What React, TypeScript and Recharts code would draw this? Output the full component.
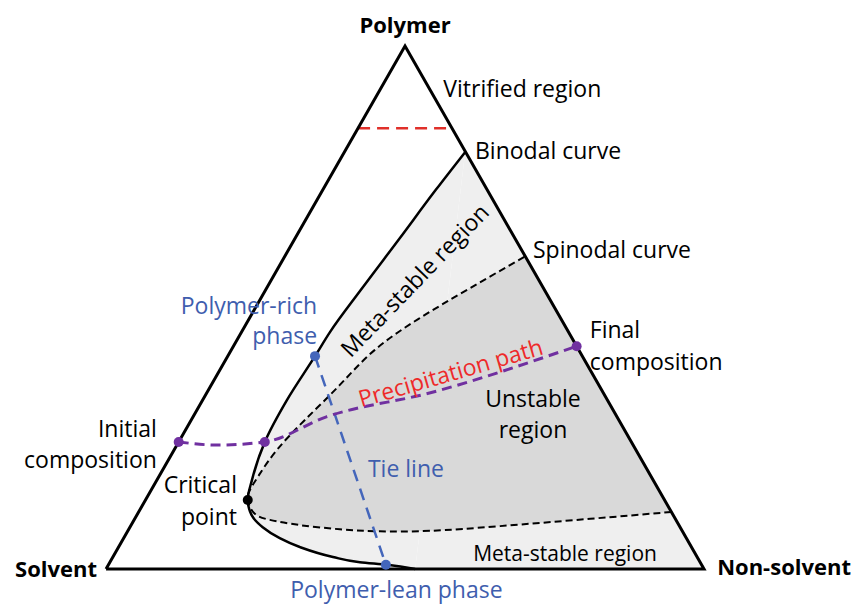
import { Scatter, ScatterChart, XAxis, YAxis } from 'recharts'

// Compositions as [polymer %, non-solvent %];
// solvent is the remainder. Solvent corner bottom-left, non-solvent
// bottom-right, polymer at the top.
type Comp = [number, number]

const corners: Comp[] = [[0, 0], [0, 100], [100, 0], [0, 0]]

const binodal: Comp[] = [
  [79.7, 20.2], [72.5, 18.9], [63.3, 17.5], [53.2, 15.9], [45.3, 14.8],
  [40.7, 14.6], [32.3, 14.1], [24.3, 14.4], [17.0, 15.9], [13.2, 17.1],
  [10.3, 19.2], [8.0, 22.2], [5.9, 26.1], [4.2, 30.3], [2.3, 36.8],
  [1.3, 41.8], [0.8, 46.6], [0, 51.7],
]

const spinodal: Comp[] = [
  [59.7, 40.1], [53.7, 34.0], [48.0, 28.5], [41.9, 24.0], [35.2, 21.5],
  [28.5, 19.0], [22.8, 17.2], [18.0, 16.6], [15.1, 16.5], [13.2, 17.1],
  [10.7, 19.4], [9.4, 22.7], [8.4, 28.2], [7.6, 35.3], [7.2, 42.2],
  [7.3, 50.5], [8.2, 61.8], [9.6, 76.2], [10.9, 89.1],
]

const precipitationPath: Comp[] = [
  [24.3, 0], [23.7, 6.7], [24.3, 14.4], [29.1, 22.3], [33.7, 37.4], [42.6, 57.4],
]

const tieLine: Comp[] = [[40.7, 14.6], [0.8, 46.4]]
const vitrification: Comp[] = [[84.3, 0], [84.3, 14.9]]

const pathDots: Comp[] = [[24.3, 0], [24.3, 14.4], [42.6, 57.4]]
const phaseDots: Comp[] = [[40.7, 14.6], [0.8, 46.4]]
const criticalPoint: Comp[] = [[13.2, 17.1]]

// annotations, in plot units (x along the base, y up the height)
type Note = { text: string; x: number; y: number; kind: string; anchor: 'start' | 'middle' | 'end'; angle?: number }
const notes: Note[] = [
  { text: 'Polymer', x: 50, y: 102.5, kind: 'corner', anchor: 'middle' },
  { text: 'Solvent', x: -1.5, y: -1.5, kind: 'corner', anchor: 'end' },
  { text: 'Non-solvent', x: 102.2, y: -1.2, kind: 'corner', anchor: 'start' },
  { text: 'Vitrified region', x: 56.4, y: 90.3, kind: 'plain', anchor: 'start' },
  { text: 'Binodal curve', x: 61.7, y: 78.4, kind: 'plain', anchor: 'start' },
  { text: 'Spinodal curve', x: 71.4, y: 59.5, kind: 'plain', anchor: 'start' },
  { text: 'Final', x: 80.9, y: 44.2, kind: 'plain', anchor: 'start' },
  { text: 'composition', x: 80.9, y: 38.0, kind: 'plain', anchor: 'start' },
  { text: 'Initial', x: 8.5, y: 25.2, kind: 'plain', anchor: 'end' },
  { text: 'composition', x: 8.5, y: 19.3, kind: 'plain', anchor: 'end' },
  { text: 'Critical', x: 21.9, y: 14.5, kind: 'plain', anchor: 'end' },
  { text: 'point', x: 21.9, y: 8.4, kind: 'plain', anchor: 'end' },
  { text: 'Meta-stable region', x: 52.6, y: 54.1, kind: 'plain', anchor: 'middle', angle: -46 },
  { text: 'Unstable', x: 71.4, y: 31.0, kind: 'plain', anchor: 'middle' },
  { text: 'region', x: 71.4, y: 25.0, kind: 'plain', anchor: 'middle' },
  { text: 'Meta-stable region', x: 61.4, y: 1.5, kind: 'small', anchor: 'start' },
  { text: 'Precipitation path', x: 58.0, y: 36.0, kind: 'path', anchor: 'middle', angle: -16.2 },
  { text: 'Polymer-rich', x: 35.3, y: 48.7, kind: 'phase', anchor: 'end' },
  { text: 'phase', x: 35.3, y: 43.1, kind: 'phase', anchor: 'end' },
  { text: 'Tie line', x: 43.8, y: 17.6, kind: 'phase', anchor: 'start' },
  { text: 'Polymer-lean phase', x: 30.8, y: -5.5, kind: 'phase', anchor: 'start' },
]

const FONT = "'Open Sans', sans-serif"
const LIGHT = '#efefef'
const DARK = '#d9d9d9'
const BLUE = '#3f5eae'
const PURPLE = '#7030a0'
const RED = '#ee2a2a'

const noteStyle: Record<string, { fill: string; fontSize: number; fontWeight: number }> = {
  corner: { fill: '#000', fontSize: 22, fontWeight: 700 },
  plain: { fill: '#000', fontSize: 23, fontWeight: 400 },
  small: { fill: '#000', fontSize: 21, fontWeight: 400 },
  phase: { fill: BLUE, fontSize: 23, fontWeight: 400 },
  path: { fill: RED, fontSize: 23, fontWeight: 400 },
}

const toXY = ([polymer, nonSolvent]: Comp) => ({ x: nonSolvent + polymer / 2, y: polymer })

const noDot = () => <g />
const dot = (color: string) => (p: any) => <circle cx={p.cx} cy={p.cy} r={5} fill={color} />

function NoteText(p: any) {
  const n: Note = p.payload
  const s = noteStyle[n.kind]
  return (
    <text
      x={p.cx}
      y={p.cy}
      textAnchor={n.anchor}
      fontFamily={FONT}
      fontSize={s.fontSize}
      fontWeight={s.fontWeight}
      fill={s.fill}
      transform={n.angle ? `rotate(${n.angle} ${p.cx} ${p.cy})` : undefined}
    >
      {n.text}
    </text>
  )
}

export default function App() {
  const binodalXY = binodal.map(toXY)
  const wedgeXY = [binodal[0], [0, 100] as Comp, binodal[binodal.length - 1]].map(toXY)
  return (
    <div style={{ position: 'absolute', left: 0, top: 0, background: '#fff' }}>
      <ScatterChart width={855} height={604} margin={{ top: 0, right: 0, bottom: 0, left: 0 }}>
        <XAxis type="number" dataKey="x" domain={[-17.73, 125.25]} hide allowDataOverflow />
        <YAxis type="number" dataKey="y" domain={[-6.69, 108.8]} hide allowDataOverflow />

        {/* two-phase region (binodal) and unstable region (spinodal) */}
        <Scatter data={binodalXY} line={{ fill: LIGHT, stroke: 'none' }} lineJointType="monotoneY" shape={noDot} isAnimationActive={false} />
        <Scatter data={wedgeXY} line={{ fill: LIGHT, stroke: LIGHT, strokeWidth: 1 }} lineJointType="linear" shape={noDot} isAnimationActive={false} />
        <Scatter data={spinodal.map(toXY)} line={{ fill: DARK, stroke: 'none' }} lineJointType="natural" shape={noDot} isAnimationActive={false} />

        <Scatter data={vitrification.map(toXY)} line={{ stroke: '#e0302a', strokeWidth: 2.5, strokeDasharray: '12 7' }} lineJointType="linear" shape={noDot} isAnimationActive={false} />
        <Scatter data={corners.map(toXY)} line={{ stroke: '#000', strokeWidth: 3, strokeLinejoin: 'miter' }} lineJointType="linear" shape={noDot} isAnimationActive={false} />
        <Scatter data={binodalXY} line={{ stroke: '#000', strokeWidth: 2.5 }} lineJointType="monotoneY" shape={noDot} isAnimationActive={false} />
        <Scatter data={spinodal.map(toXY)} line={{ stroke: '#000', strokeWidth: 2, strokeDasharray: '7 4' }} lineJointType="natural" shape={noDot} isAnimationActive={false} />
        <Scatter data={tieLine.map(toXY)} line={{ stroke: '#4466bb', strokeWidth: 2.5, strokeDasharray: '12 8' }} lineJointType="linear" shape={noDot} isAnimationActive={false} />
        <Scatter data={precipitationPath.map(toXY)} line={{ stroke: PURPLE, strokeWidth: 3, strokeDasharray: '10 6' }} lineJointType="monotoneX" shape={noDot} isAnimationActive={false} />

        <Scatter data={pathDots.map(toXY)} shape={dot(PURPLE)} isAnimationActive={false} />
        <Scatter data={phaseDots.map(toXY)} shape={dot('#4466bb')} isAnimationActive={false} />
        <Scatter data={criticalPoint.map(toXY)} shape={dot('#000')} isAnimationActive={false} />

        <Scatter data={notes} shape={NoteText} isAnimationActive={false} />
      </ScatterChart>
    </div>
  )
}
